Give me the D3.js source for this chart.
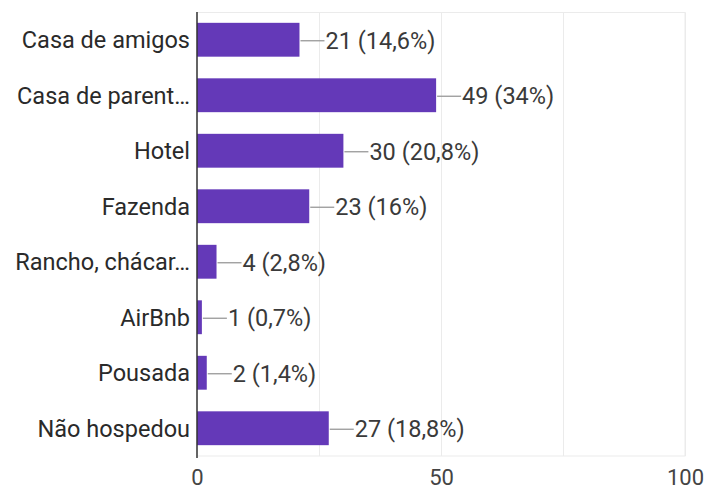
<!DOCTYPE html>
<html><head><meta charset="utf-8">
<script src="https://cdnjs.cloudflare.com/ajax/libs/d3/7.8.5/d3.min.js"></script>
<style>body{margin:0;background:#fff}svg{display:block}</style>
</head><body>
<svg id="c" width="707" height="492"></svg>
<script>
const categories = ["Casa de amigos","Casa de parent…","Hotel","Fazenda","Rancho, chácar…","AirBnb","Pousada","Não hospedou"];
const values = [21,49,30,23,4,1,2,27];
const labels = ["21 (14,6%)","49 (34%)","30 (20,8%)","23 (16%)","4 (2,8%)","1 (0,7%)","2 (1,4%)","27 (18,8%)"];
const tickValues = [0,50,100];
const gridValues = [25,50,75,100];

const svg = d3.select("#c");
const x = d3.scaleLinear().domain([0,100]).range([197,685]);
const y = d3.scaleBand().domain(categories).range([12,456]).paddingInner(0.39).paddingOuter(0.195);
const font = "Roboto, 'Noto Sans', sans-serif";

// frame & grid
svg.append("rect").attr("x",x(0)).attr("y",12.5).attr("width",x(100)-x(0)).attr("height",456-12.5)
  .attr("fill","none").attr("stroke","#ebebeb").attr("stroke-width",1);
svg.selectAll(".grid").data(gridValues).join("line")
  .attr("x1",d=>Math.round(x(d))+0.5).attr("x2",d=>Math.round(x(d))+0.5)
  .attr("y1",12.5).attr("y2",456).attr("stroke","#ebebeb");

// bars
svg.selectAll(".bar").data(values).join("rect")
  .attr("x",x(0)).attr("y",(d,i)=>y(categories[i]))
  .attr("width",d=>x(d)-x(0)).attr("height",y.bandwidth())
  .attr("fill","#6439b8");

// leader lines and labels
svg.selectAll(".lead").data(values).join("line")
  .attr("x1",d=>x(d)+1).attr("x2",d=>x(d)+25)
  .attr("y1",(d,i)=>y(categories[i])+y.bandwidth()/2+1)
  .attr("y2",(d,i)=>y(categories[i])+y.bandwidth()/2+1)
  .attr("stroke","#999").attr("stroke-width",1.3);
svg.selectAll(".val").data(values).join("text")
  .attr("x",d=>x(d)+26).attr("y",(d,i)=>y(categories[i])+y.bandwidth()/2+1)
  .attr("dy","0.35em").attr("font-family",font).attr("font-size",23.5).attr("fill","#3a3a3a")
  .text((d,i)=>labels[i]);

// y axis
const ya = svg.append("g").attr("transform",`translate(${x(0)},0)`)
  .call(d3.axisLeft(y).tickSize(0).tickPadding(7));
ya.select(".domain").remove();
ya.selectAll("text").attr("font-family",font).attr("font-size",23.5).attr("fill","#2a2a2a").attr("dy","0.37em");
svg.append("line").attr("x1",x(0)).attr("x2",x(0)).attr("y1",12).attr("y2",458)
  .attr("stroke","#333").attr("stroke-width",1.5);

// x axis
const xa = svg.append("g").attr("transform","translate(0,485)")
  .call(d3.axisBottom(x).tickValues(tickValues).tickSize(0).tickPadding(0));
xa.select(".domain").remove();
xa.selectAll("text").attr("font-family",font).attr("font-size",22).attr("fill","#444").attr("dy","0");
</script>
</body></html>
